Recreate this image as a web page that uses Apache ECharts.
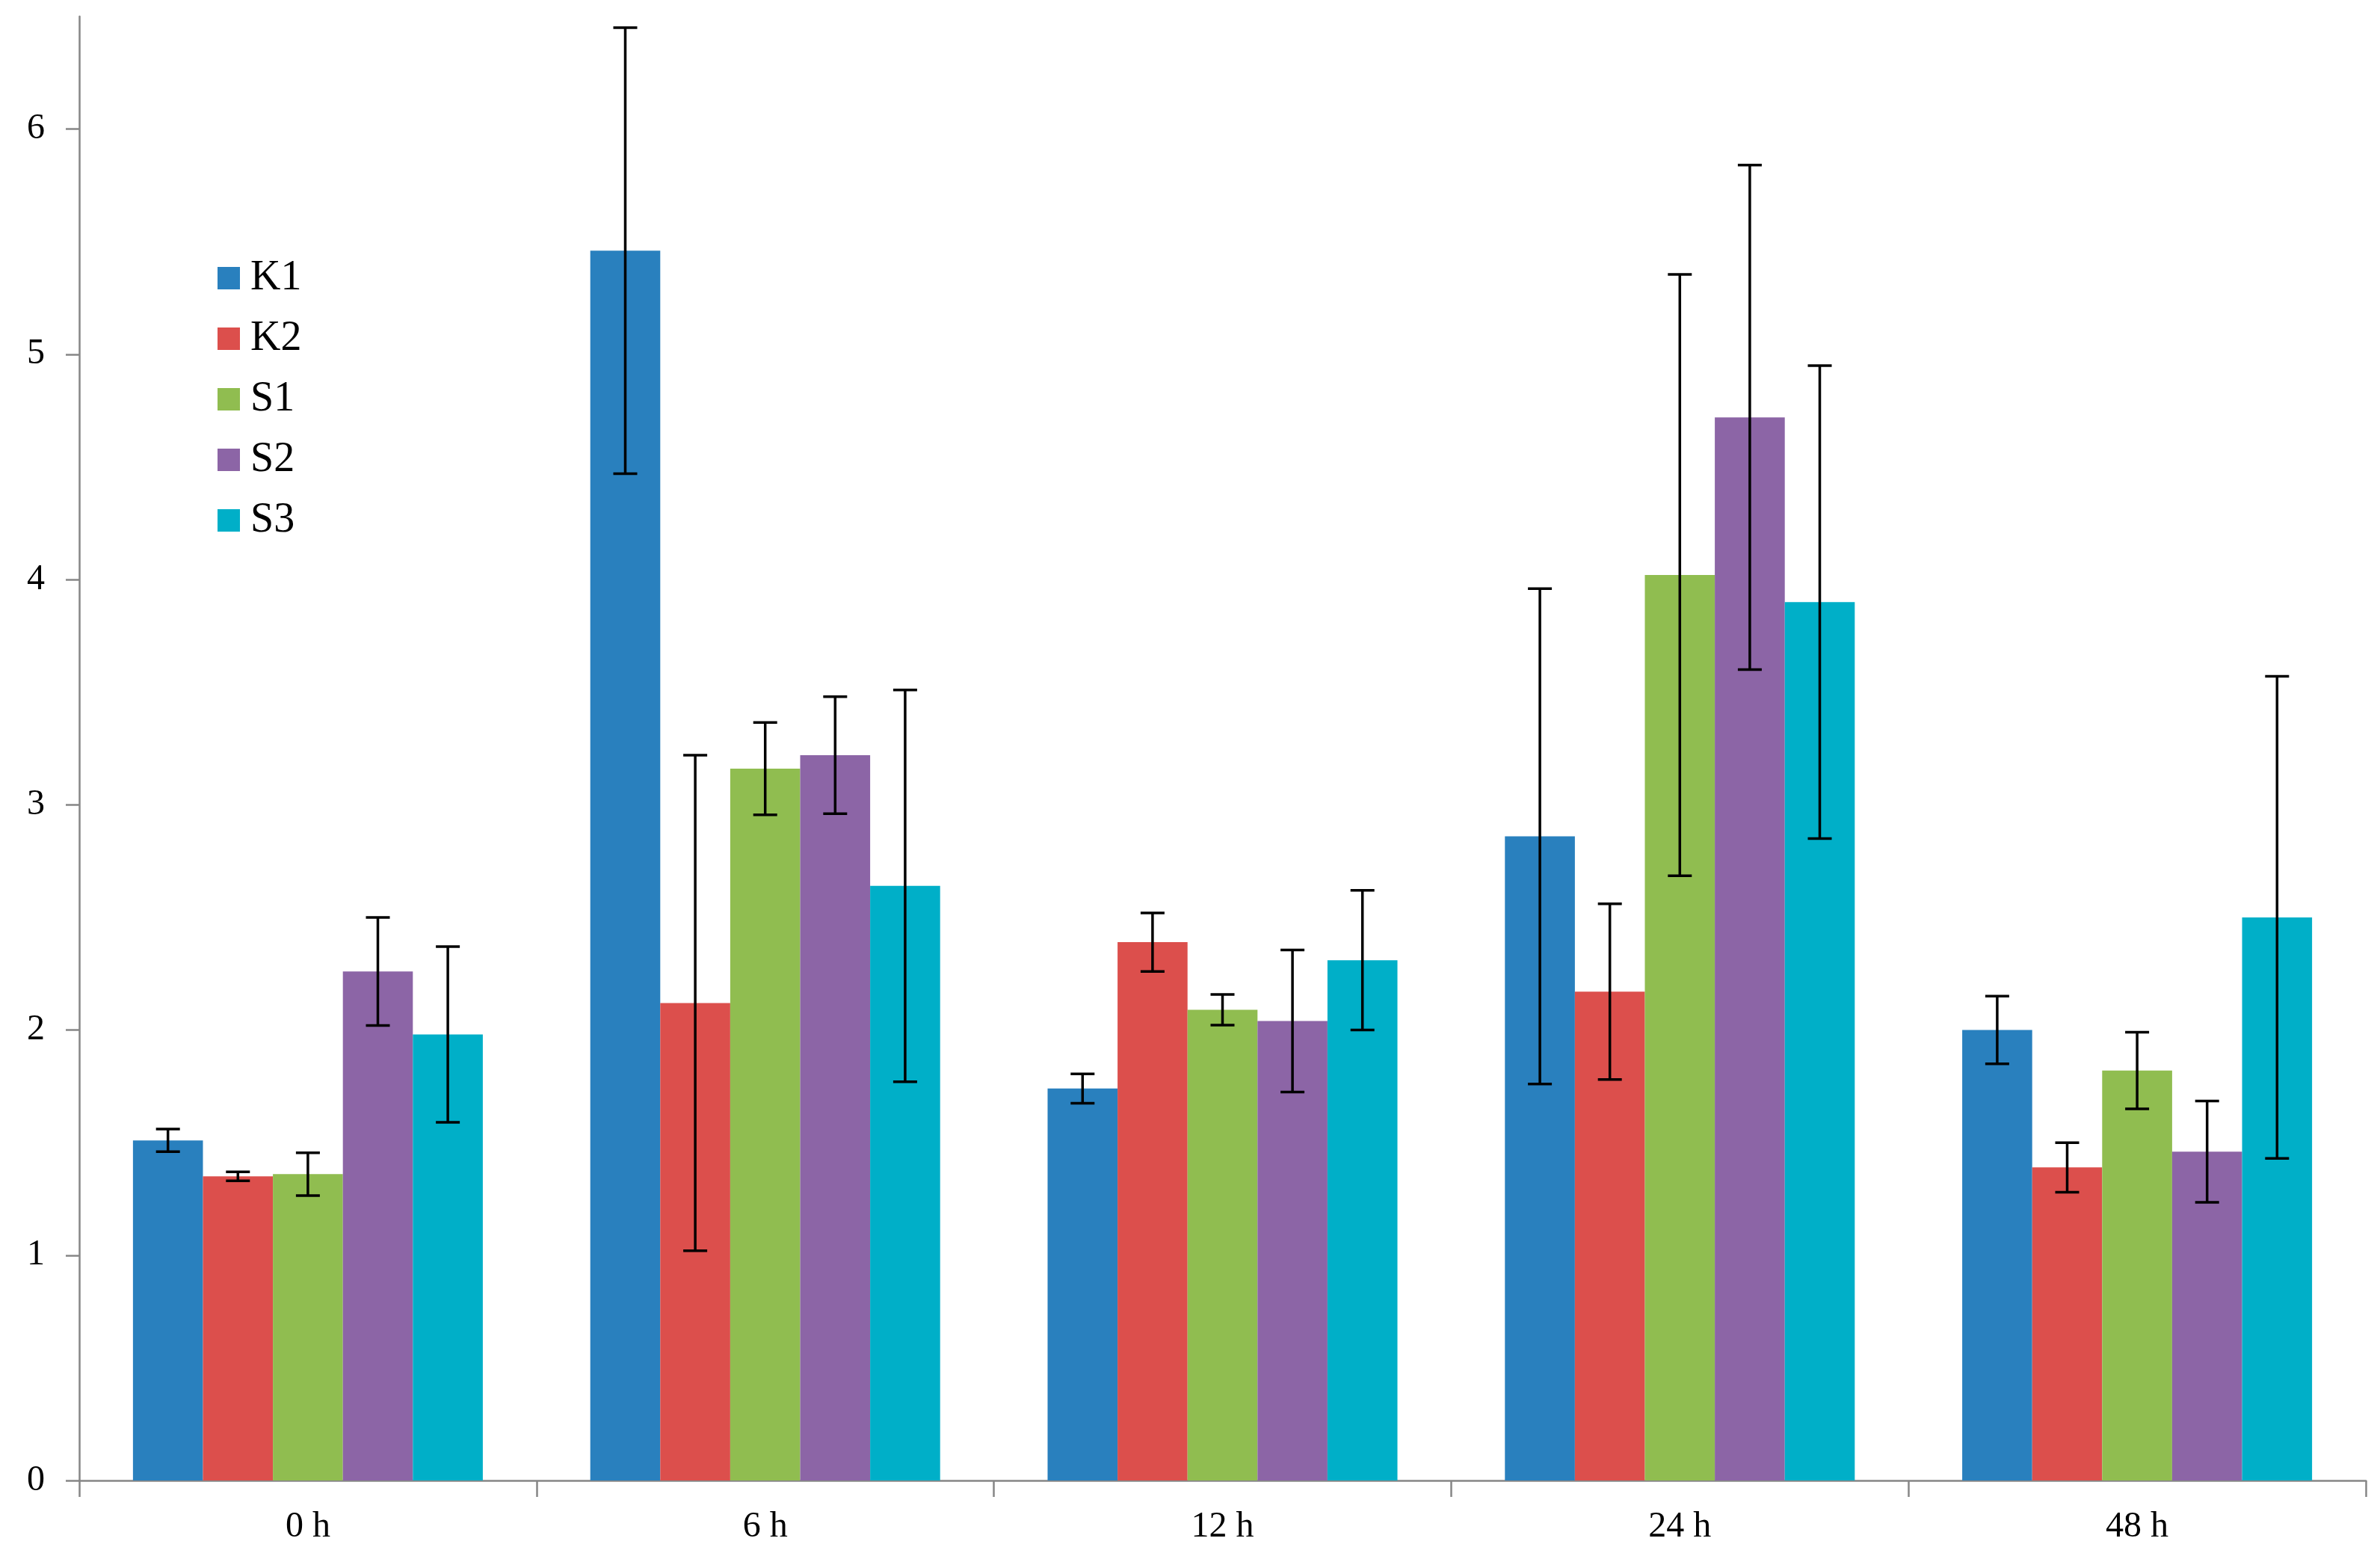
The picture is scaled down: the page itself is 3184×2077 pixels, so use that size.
<!DOCTYPE html>
<html>
<head>
<meta charset="utf-8">
<script src="https://cdn.jsdelivr.net/npm/echarts@6/dist/echarts.min.js"></script>
<style>html,body{margin:0;padding:0;background:#fff;}#c{width:3184px;height:2077px;}</style>
</head>
<body>
<div id="c"></div>
<script>
const categories = ['0 h', '6 h', '12 h', '24 h', '48 h'];
const seriesNames = ['K1', 'K2', 'S1', 'S2', 'S3'];
const K1 = [1.51, 5.46, 1.74, 2.86, 2.00];
const K2 = [1.35, 2.12, 2.39, 2.17, 1.39];
const S1 = [1.36, 3.16, 2.09, 4.02, 1.82];
const S2 = [2.26, 3.22, 2.04, 4.72, 1.46];
const S3 = [1.98, 2.64, 2.31, 3.90, 2.50];
const K1err = [0.05, 0.99, 0.065, 1.10, 0.15];
const K2err = [0.02, 1.10, 0.13, 0.39, 0.11];
const S1err = [0.095, 0.205, 0.068, 1.335, 0.17];
const S2err = [0.24, 0.26, 0.315, 1.12, 0.225];
const S3err = [0.39, 0.87, 0.31, 1.05, 1.07];
const yTicks = [0, 1, 2, 3, 4, 5, 6];

const values = [K1, K2, S1, S2, S3];
const errors = [K1err, K2err, S1err, S2err, S3err];
const colors = ['#2980BE', '#DC4F4C', '#90BD50', '#8C65A6', '#00AFC8'];
const CAT_GAP = 0.235;
const nSeries = seriesNames.length;

const chart = echarts.init(document.getElementById('c'), null, {renderer: 'canvas'});

const barSeries = seriesNames.map((name, i) => ({
  name: name,
  type: 'bar',
  data: values[i],
  barGap: '0%',
  barCategoryGap: (CAT_GAP * 100) + '%',
  itemStyle: {color: colors[i]},
  z: 2
}));

const errData = [];
values.forEach((vals, si) => {
  vals.forEach((v, ci) => {
    errData.push([ci, si, v - errors[si][ci], v + errors[si][ci]]);
  });
});

const errSeries = {
  type: 'custom',
  name: 'err',
  data: errData,
  z: 10,
  silent: true,
  encode: {x: 0, y: [2, 3]},
  renderItem: function (params, api) {
    const ci = api.value(0);
    const si = api.value(1);
    const lo = api.value(2);
    const hi = api.value(3);
    const band = api.size([1, 0])[0];
    const bw = band * (1 - CAT_GAP) / nSeries;
    const pLo = api.coord([ci, lo]);
    const pHi = api.coord([ci, hi]);
    const x = pLo[0] + (si - (nSeries - 1) / 2) * bw;
    const cap = 16;
    const style = {stroke: '#000', lineWidth: 3.5, fill: null};
    return {
      type: 'group',
      children: [
        {type: 'line', shape: {x1: x, y1: pLo[1], x2: x, y2: pHi[1]}, style: style},
        {type: 'line', shape: {x1: x - cap, y1: pLo[1], x2: x + cap, y2: pLo[1]}, style: style},
        {type: 'line', shape: {x1: x - cap, y1: pHi[1], x2: x + cap, y2: pHi[1]}, style: style}
      ]
    };
  }
};

const option = {
  backgroundColor: '#ffffff',
  animation: false,
  textStyle: {fontFamily: 'Liberation Serif'},
  legend: {
    data: seriesNames,
    orient: 'vertical',
    left: 286,
    top: 339,
    itemWidth: 30,
    itemHeight: 30,
    itemGap: 25,
    icon: 'rect',
    textStyle: {fontFamily: 'Liberation Serif', fontSize: 56, color: '#000', lineHeight: 56, padding: [0, 0, 0, 9]}
  },
  grid: {left: 106, right: 19, top: 22, bottom: 97, containLabel: false},
  xAxis: {
    type: 'category',
    data: categories,
    axisLine: {lineStyle: {color: '#868686', width: 2.5}},
    axisTick: {show: true, length: 22, lineStyle: {color: '#868686', width: 2.5}},
    axisLabel: {fontFamily: 'Liberation Serif', fontSize: 48, color: '#000', margin: 38}
  },
  yAxis: {
    type: 'value',
    min: 0,
    max: 6.5,
    interval: 1,
    splitLine: {show: false},
    axisLine: {show: true, lineStyle: {color: '#868686', width: 2.5}},
    axisTick: {show: true, length: 18, customValues: yTicks, lineStyle: {color: '#868686', width: 2.5}},
    axisLabel: {fontFamily: 'Liberation Serif', fontSize: 48, color: '#000', margin: 46, customValues: yTicks}
  },
  series: barSeries.concat([errSeries])
};
chart.setOption(option);
</script>
</body>
</html>
